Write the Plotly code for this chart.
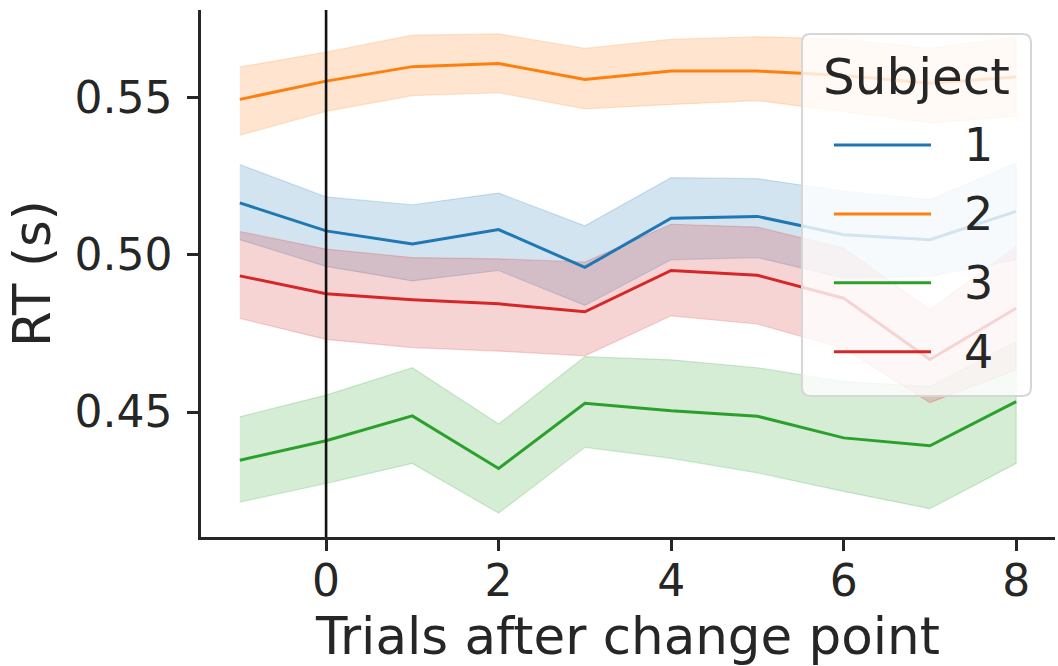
import plotly.graph_objects as go

# Trials relative to the change point
trials = [-1, 0, 1, 2, 3, 4, 5, 6, 7, 8]

# Mean reaction time per subject, with 95% CI bounds
rt_s1 = [0.5165, 0.5076, 0.5034, 0.5080, 0.4960, 0.5116, 0.5122, 0.5064, 0.5048, 0.5138]
hi_s1 = [0.5287, 0.5184, 0.5159, 0.5196, 0.5092, 0.5245, 0.5242, 0.5202, 0.5175, 0.5292]
lo_s1 = [0.5048, 0.4963, 0.4917, 0.4950, 0.4839, 0.4984, 0.4991, 0.4926, 0.4931, 0.4984]

rt_s2 = [0.5494, 0.5552, 0.5598, 0.5608, 0.5557, 0.5584, 0.5584, 0.5570, 0.5545, 0.5565]
hi_s2 = [0.5597, 0.5644, 0.5698, 0.5702, 0.5656, 0.5685, 0.5693, 0.5685, 0.5656, 0.5693]
lo_s2 = [0.5380, 0.5456, 0.5506, 0.5515, 0.5464, 0.5478, 0.5490, 0.5455, 0.5419, 0.5440]

rt_s3 = [0.4347, 0.4409, 0.4488, 0.4321, 0.4528, 0.4504, 0.4487, 0.4418, 0.4393, 0.4533]
hi_s3 = [0.4485, 0.4554, 0.4641, 0.4462, 0.4676, 0.4666, 0.4641, 0.4597, 0.4581, 0.4724]
lo_s3 = [0.4214, 0.4273, 0.4337, 0.4179, 0.4388, 0.4353, 0.4307, 0.4248, 0.4193, 0.4337]

rt_s4 = [0.4933, 0.4876, 0.4857, 0.4844, 0.4819, 0.4950, 0.4935, 0.4862, 0.4667, 0.4830]
hi_s4 = [0.5074, 0.5018, 0.4991, 0.4987, 0.4977, 0.5097, 0.5088, 0.5021, 0.4825, 0.5026]
lo_s4 = [0.4798, 0.4731, 0.4705, 0.4694, 0.4679, 0.4806, 0.4780, 0.4703, 0.4530, 0.4634]

subjects = ["1", "2", "3", "4"]
means = [rt_s1, rt_s2, rt_s3, rt_s4]
uppers = [hi_s1, hi_s2, hi_s3, hi_s4]
lowers = [lo_s1, lo_s2, lo_s3, lo_s4]
colors = [(31, 119, 180), (255, 127, 14), (44, 160, 44), (214, 39, 40)]

INK = "#262626"
FONT = "DejaVu Sans"

fig = go.Figure()

# Confidence bands first, so every mean line sits on top of them
for name, hi, lo, (r, g, b) in zip(subjects, uppers, lowers, colors):
    band = f"rgba({r},{g},{b},0.2)"
    fig.add_trace(go.Scatter(
        x=trials + trials[::-1], y=hi + lo[::-1],
        fill="toself", fillcolor=band,
        line=dict(color=band, width=1.2),
        mode="lines", showlegend=False, hoverinfo="skip",
    ))

for name, rt, (r, g, b) in zip(subjects, means, colors):
    fig.add_trace(go.Scatter(
        x=trials, y=rt, name=name, mode="lines",
        line=dict(color=f"rgb({r},{g},{b})", width=3),
        showlegend=False,
    ))

# Change-point marker
fig.add_shape(type="line", xref="x", yref="paper", x0=0, x1=0, y0=0, y1=1,
              line=dict(color="#111111", width=2.6), layer="above")

# Legend: rounded translucent frame, title, one line sample + label per subject
lx0, lx1, ly0, ly1 = 0.7037, 0.9719, 0.2676, 0.9545
rx, ry = 0.010, 0.016
frame = (f"M {lx0 + rx} {ly1} L {lx1 - rx} {ly1} Q {lx1} {ly1} {lx1} {ly1 - ry} "
         f"L {lx1} {ly0 + ry} Q {lx1} {ly0} {lx1 - rx} {ly0} "
         f"L {lx0 + rx} {ly0} Q {lx0} {ly0} {lx0} {ly0 + ry} "
         f"L {lx0} {ly1 - ry} Q {lx0} {ly1} {lx0 + rx} {ly1} Z")
fig.add_shape(type="path", xref="paper", yref="paper", path=frame,
              fillcolor="rgba(255,255,255,0.8)",
              line=dict(color="#d6d6d6", width=2), layer="above")

fig.add_annotation(text="Subject", xref="paper", yref="paper",
                   x=(lx0 + lx1) / 2, y=0.873, xanchor="center", yanchor="middle",
                   showarrow=False, font=dict(family=FONT, size=50, color=INK))

row_top, row_step = 0.7438, 0.1307
sample_x0, sample_x1, label_x = 0.7412, 0.8548, 0.8915
for i, (name, (r, g, b)) in enumerate(zip(subjects, colors)):
    yy = row_top - i * row_step
    fig.add_shape(type="line", xref="paper", yref="paper",
                  x0=sample_x0, x1=sample_x1, y0=yy, y1=yy,
                  line=dict(color=f"rgb({r},{g},{b})", width=3), layer="above")
    fig.add_annotation(text=name, xref="paper", yref="paper",
                       x=label_x, y=yy, xanchor="left", yanchor="middle",
                       showarrow=False, font=dict(family=FONT, size=46, color=INK))

axis_common = dict(
    showline=True, linecolor=INK, linewidth=2.5, mirror=False,
    ticks="outside", ticklen=11, tickwidth=2.5, tickcolor=INK,
    showgrid=False, zeroline=False,
    tickfont=dict(family=FONT, size=44, color=INK),
)

fig.update_layout(
    width=1058, height=666,
    margin=dict(l=201, r=3, t=10, b=129),
    paper_bgcolor="white", plot_bgcolor="white",
    font=dict(family=FONT, color=INK),
    showlegend=False,
    xaxis=dict(range=[-1.45, 8.45], tickvals=[0, 2, 4, 6, 8], ticklabelstandoff=-8,
               title=dict(text="Trials after change point",
                          font=dict(family=FONT, size=51.5, color=INK), standoff=8),
               **axis_common),
    yaxis=dict(range=[0.4103, 0.5778], tickvals=[0.45, 0.50, 0.55], tickformat=".2f",
               ticklabelstandoff=6,
               title=dict(text="RT (s)", font=dict(family=FONT, size=51.5, color=INK),
                          standoff=8),
               **axis_common),
)

fig.write_html("out.html")
